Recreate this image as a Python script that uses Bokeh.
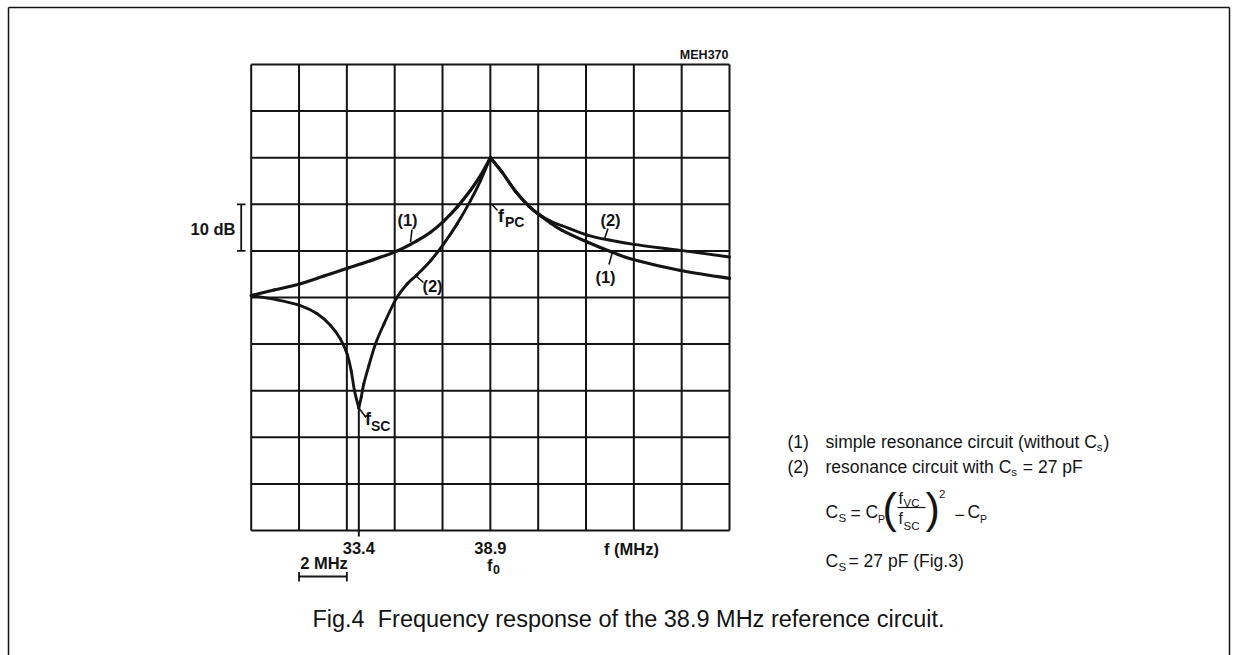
from bokeh.plotting import figure
from bokeh.models import Range1d, LinearAxis, FixedTicker
from bokeh.core.properties import value
from bokeh.embed import file_html
from bokeh.resources import INLINE

# ---------------- data ----------------
freq_grid = [28.9, 30.9, 32.9, 34.9, 36.9, 38.9, 40.9, 42.9, 44.9, 46.9, 48.9]   # MHz (2 MHz / div)
level_grid = [20, 10, 0, -10, -20, -30, -40, -50, -60, -70, -80]               # dB (10 dB / div)
tick_freqs = [33.4, 38.9]
f_sc = 33.4          # series resonance (dip of curve 2)
f_pc = 38.9          # parallel resonance (peak)
scale_db = [-10, -20]        # "10 dB" bracket
scale_mhz = [30.9, 32.9]     # "2 MHz" bar

# curve (1): simple resonance circuit (without Cs)
c1_f = [28.9, 29.85, 30.93, 31.94, 32.98, 33.89, 34.96, 35.84, 36.4, 36.95, 37.51, 38.07, 38.49,
        38.9, 39.39, 39.95, 40.51, 40.93, 41.41, 41.9, 42.95, 44.0, 44.9, 46.85, 48.9]
c1_db = [-29.6, -28.4, -27.1, -25.4, -23.6, -22.1, -20.1, -17.8, -16.0, -13.6, -10.6, -7.0, -3.8,
         0.0, -3.1, -7.2, -10.4, -12.2, -14.0, -15.6, -18.1, -20.3, -21.9, -24.2, -25.9]

# curve (2): resonance circuit with Cs = 27 pF
c2_f = [28.9, 29.99, 30.93, 31.66, 32.22, 32.63, 32.91, 33.08, 33.22, 33.4, 33.5, 33.61, 33.82,
        34.1, 34.45, 34.96, 35.42, 35.84, 36.4, 36.95, 37.51, 38.07, 38.49, 38.9, 39.39, 39.95,
        40.51, 40.93, 41.41, 41.9, 42.95, 44.0, 44.9, 46.85, 48.9]
c2_db = [-29.6, -30.5, -31.7, -33.5, -36.0, -38.9, -42.1, -45.7, -50.0, -53.7, -51.4, -48.5, -44.6,
         -39.9, -35.7, -30.3, -27.1, -25.1, -22.1, -18.5, -14.2, -9.2, -4.9, 0.0, -3.1, -7.2,
         -10.4, -12.1, -13.6, -14.6, -16.6, -17.8, -18.6, -19.9, -21.3]

# ---------------- layout ----------------
W, H = 1247, 655
GL, GR, GT, GB = 250.7, 729.0, 64.0, 530.0     # grid box on the page (px)
INK = "#141414"


def X(px):
    return freq_grid[0] + (px - GL) * (freq_grid[-1] - freq_grid[0]) / (GR - GL)


def Y(py):
    return level_grid[0] - (py - GT) * (level_grid[0] - level_grid[-1]) / (GB - GT)


p = figure(width=W, height=H,
           x_range=Range1d(X(0), X(W)), y_range=Range1d(Y(H), Y(0)),
           output_backend="svg", toolbar_location=None,
           x_axis_location=None, y_axis_location=None, min_border=0,
           outline_line_color=None, background_fill_color="white", border_fill_color="white")
p.grid.visible = False

FONT = "Liberation Sans"

# frequency axis (labels only) sitting on the bottom grid line
xaxis = LinearAxis(fixed_location=level_grid[-1], ticker=FixedTicker(ticks=tick_freqs),
                   axis_line_color=None, major_tick_line_color=None, minor_tick_line_color=None,
                   major_tick_out=0, major_tick_in=0,
                   major_label_text_font=FONT, major_label_text_font_size="16.5px",
                   major_label_text_font_style="bold", major_label_text_color=INK,
                   major_label_standoff=11)
p.add_layout(xaxis, "below")

# grid
p.segment(x0=freq_grid, y0=[level_grid[-1]] * len(freq_grid), x1=freq_grid, y1=[level_grid[0]] * len(freq_grid),
          line_color=INK, line_width=2)
p.segment(x0=[freq_grid[0]] * len(level_grid), y0=level_grid, x1=[freq_grid[-1]] * len(level_grid), y1=level_grid,
          line_color=INK, line_width=2)

# marker line at f_sc from the dip down past the axis
p.segment(x0=[f_sc], y0=[min(c2_db)], x1=[f_sc], y1=[Y(GB + 6)], line_color=INK, line_width=2)


# curves: smooth Catmull-Rom style Bezier drawing through the read points,
# kept sharp at the cusps (f_sc dip, f_pc peak)
def smooth_curve(xs, ys, cusps, width):
    idx = [0] + [xs.index(c) for c in cusps if c in xs] + [len(xs) - 1]
    bx0, by0, bx1, by1, cx0, cy0, cx1, cy1 = ([] for _ in range(8))
    for a, b in zip(idx[:-1], idx[1:]):
        px_ = xs[a:b + 1]
        py_ = ys[a:b + 1]
        n = len(px_) - 1
        for i in range(n):
            i0 = max(i - 1, 0)
            i3 = min(i + 2, n)
            bx0.append(px_[i]); by0.append(py_[i])
            bx1.append(px_[i + 1]); by1.append(py_[i + 1])
            cx0.append(px_[i] + (px_[i + 1] - px_[i0]) / 6.0)
            cy0.append(py_[i] + (py_[i + 1] - py_[i0]) / 6.0)
            cx1.append(px_[i + 1] - (px_[i3] - px_[i]) / 6.0)
            cy1.append(py_[i + 1] - (py_[i3] - py_[i]) / 6.0)
    p.bezier(x0=bx0, y0=by0, x1=bx1, y1=by1, cx0=cx0, cy0=cy0, cx1=cx1, cy1=cy1,
             line_color=INK, line_width=width, line_cap="round")


smooth_curve(c1_f, c1_db, [f_pc], 3.2)
smooth_curve(c2_f, c2_db, [f_sc, f_pc], 2.9)


def txt(px, py, s, size, align="left", style="normal", font=FONT):
    p.text(x=[X(px)], y=[Y(py)], text=[s], text_font=value(font), text_font_size=value(f"{size}px"),
           text_font_style=style, text_align=align, text_baseline="middle", text_color=INK)


def seg(pts, width=1.6):
    xs0, ys0, xs1, ys1 = [], [], [], []
    for (a, b, c, d) in pts:
        xs0.append(X(a)); ys0.append(Y(b)); xs1.append(X(c)); ys1.append(Y(d))
    p.segment(x0=xs0, y0=ys0, x1=xs1, y1=ys1, line_color=INK, line_width=width)


# ---- chart annotations ----
LB = 16.5
txt(728, 54, "MEH370", 12.5, align="right", style="bold")
txt(235, 228, "10 dB", LB, align="right", style="bold")
txt(407, 219.5, "(1)", LB, align="center", style="bold")
txt(432, 285, "(2)", LB, align="center", style="bold")
txt(610, 219, "(2)", LB, align="center", style="bold")
txt(605, 276.5, "(1)", LB, align="center", style="bold")
txt(497.5, 215, "f", 18, style="bold")
txt(504.5, 221, "PC", 14, style="bold")
txt(364.5, 418, "f", 18, style="bold")
txt(370.5, 425, "SC", 14, style="bold")
txt(631, 548, "f (MHz)", LB, align="center", style="bold")
txt(323.5, 562.5, "2 MHz", LB, align="center", style="bold")
txt(486.5, 564, "f", 16.5, style="bold")
txt(492.5, 568.5, "0", 12.5, style="bold")

# leaders
seg([(411.5, 229, 410, 241.5),
     (416, 276, 423, 282),
     (607.5, 228, 604, 238.5),
     (611.5, 253, 608.5, 264),
     (491.5, 204, 497, 210),
     (358, 407, 365.5, 417)])

# 10 dB bracket
p.segment(x0=[X(240.7)], y0=[scale_db[0]], x1=[X(240.7)], y1=[scale_db[1]], line_color=INK, line_width=1.8)
p.segment(x0=[X(236.5)] * 2, y0=scale_db, x1=[X(245)] * 2, y1=scale_db, line_color=INK, line_width=1.8)
# 2 MHz bar
p.segment(x0=[scale_mhz[0]], y0=[Y(576)], x1=[scale_mhz[1]], y1=[Y(576)], line_color=INK, line_width=1.8)
p.segment(x0=scale_mhz, y0=[Y(571.5)] * 2, x1=scale_mhz, y1=[Y(581)] * 2, line_color=INK, line_width=1.8)

# ---- legend / formula ----
ARIAL = {' ': .278, '(': .333, ')': .333, '1': .556, '2': .556, '3': .556, '7': .556, '=': .584,
         'a': .556, 'c': .5, 'e': .556, 'h': .556, 'i': .222, 'l': .222, 'm': .833, 'n': .556,
         'o': .556, 'p': .556, 'r': .333, 's': .5, 't': .278, 'u': .556, 'w': .722, 'C': .722,
         'F': .611, 'g': .556, '.': .278, 'S': .667, 'P': .667, 'f': .278}


def tw(s, size):
    return sum(ARIAL.get(ch, .556) for ch in s) * size


LS, SS = 17.5, 11.5
x0 = 825
txt(787, 441, "(1)", LS)
m1 = "simple resonance circuit (without C"
txt(x0, 441, m1, LS)
xs = x0 + tw(m1, LS)
txt(xs, 446.5, "s", SS)
txt(xs + tw("s", SS) + 1, 441, ")", LS)

txt(787, 466, "(2)", LS)
m2 = "resonance circuit with C"
txt(x0, 466, m2, LS)
xs = x0 + tw(m2, LS)
txt(xs, 471.5, "s", SS)
txt(xs + tw("s", SS) + 1, 466, "\u00a0= 27 pF", LS)

# C_S = C_P (f_VC / f_SC)^2 - C_P
txt(825, 511, "C", LS)
txt(838, 517.5, "S", SS)
txt(850, 512, "=", LS)
txt(865, 511, "C", LS)
txt(877.5, 518, "P", SS - 1)
txt(882, 507.5, "(", 43)
txt(898, 497.5, "f", 16)
txt(903, 502.5, "VC", SS)
seg([(897, 507, 925, 507)], width=1.2)
txt(898, 518, "f", 16)
txt(903, 525, "SC", SS)
txt(925, 507.5, ")", 43)
txt(938.5, 493, "2", SS)
txt(954, 514, "\u2212", LS)
txt(967, 511, "C", LS)
txt(979.5, 518, "P", SS - 1)

txt(825, 560, "C", LS)
txt(838, 566, "S", SS)
txt(848, 560, "= 27 pF (Fig.3)", LS)

# caption
txt(628, 618, "Fig.4\u00a0\u00a0Frequency response of the 38.9 MHz reference circuit.", 23.5, align="center")

# page frame
seg([(8, 7, 1229, 7), (8, 7, 8, H), (1229, 7, 1229, H)], width=1.5)

open("out.html", "w").write(file_html(p, INLINE))
